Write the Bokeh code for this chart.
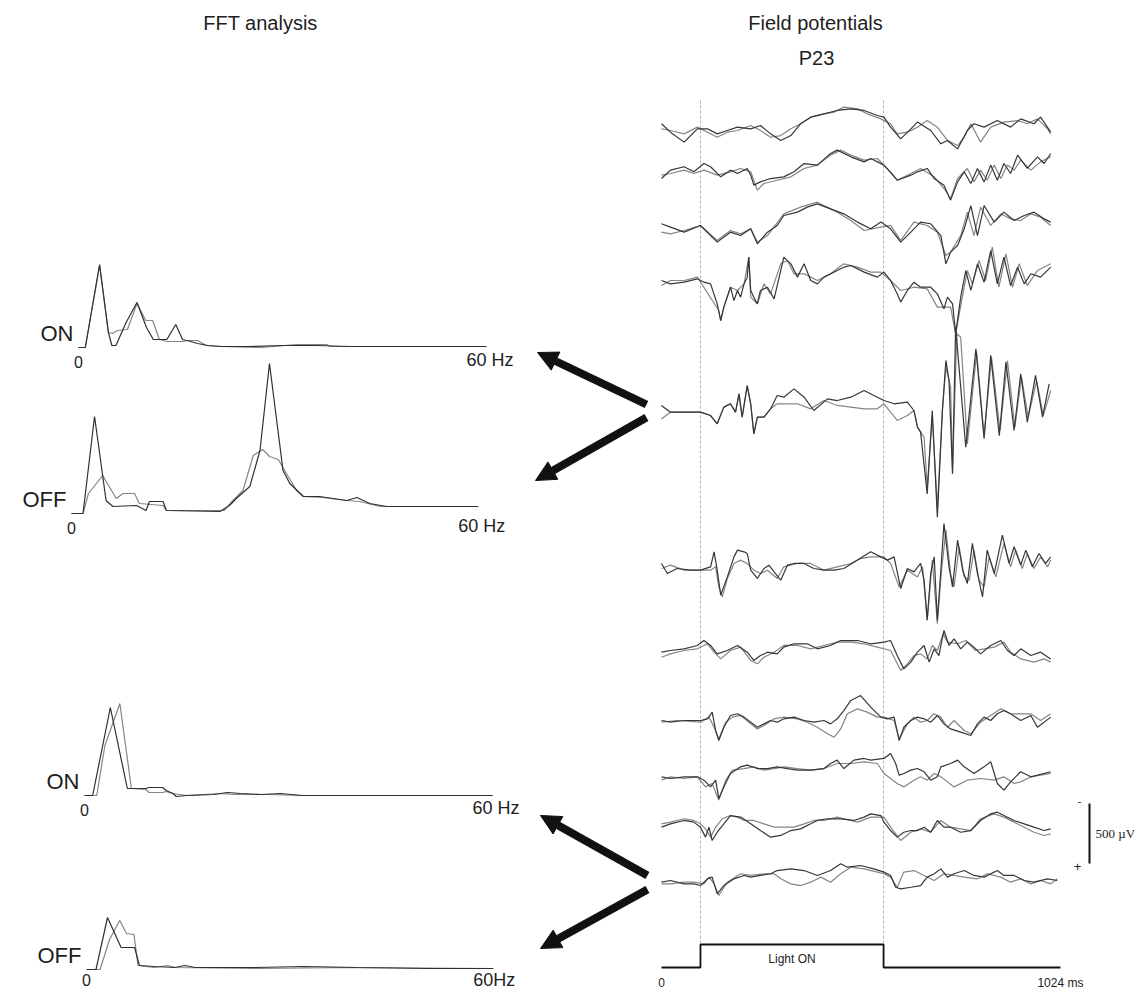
from bokeh.plotting import figure
from bokeh.models import Range1d, Label, Arrow, NormalHead
from bokeh.embed import file_html
from bokeh.resources import INLINE

# ---------------- data ----------------
# FFT spectra: (frequency Hz, amplitude a.u.)
on1_a = [(0,0),(1.0,0),(3.1,83),(4.4,15),(4.9,2),(5.5,2),(7.0,25),(8.6,45),(10.0,20),(11.0,8),(13.0,8),
         (14.3,23),(15.3,8),(16.5,6),(17.5,4),(19,2),(21,1),(25,1),(30,2),(35,2),(40,1),(50,1),(60,1)]
on1_b = [(0,0),(1.0,0),(3.1,82),(4.4,15),(5.0,14),(5.7,17),(7.2,18),(8.6,44),(9.9,27),(10.9,27),(11.9,8),
         (13,6),(15.3,6),(16,7),(17.5,7),(18.8,2),(21,1),(27,0),(32,3),(36.5,3),(37,1),(45,1),(60,1)]
off1_a = [(0,0),(1.7,0),(3.4,97),(5.1,13),(6.1,7),(9.6,8),(11.0,3),(11.5,12),(13.5,12),(14.0,3),(21.9,2),
          (23.3,8),(24.3,15),(26.3,27),(27.8,63),(29.2,150),(31.2,43),(32.2,30),(34.2,17),(36.6,17),
          (40.6,13),(42.1,16),(44.0,10),(46.5,7),(60,7)]
off1_b = [(0,0),(1.7,0),(2.5,20),(4.6,38),(6.6,15),(7.6,20),(9.3,20),(10.0,10),(13.5,8),(14.0,3),(22.5,3),
          (23.8,13),(25.3,23),(26.8,58),(28.2,64),(29.2,57),(30.5,54),(31.7,40),(33.2,23),(34.2,17),
          (37,16),(40.6,13),(42.5,12),(45.5,7),(60,7)]
on2_a = [(0,0),(1.2,0),(3.8,88),(6.3,7),(9.0,7),(9.5,8),(11.5,8),(12,5),(13,2),(13.5,-1),(15,0),(19,1),
         (21,3),(23,2),(26,1),(28.8,2),(32,0),(60,0)]
on2_b = [(0,0),(1.8,0),(3.0,50),(5.2,92),(6.9,7),(9.0,6),(9.5,3),(11.5,3),(12,4),(13,2),(15,0),(20,2),
         (22,1),(27,1),(32,0),(60,0)]
off2_a = [(0,0),(1.4,0),(3.1,52),(5.1,22),(7.1,22),(7.8,4),(10,3),(13,2),(14.5,4),(16,2),(25,2),(32,3),
          (40,2),(50,1),(60,1)]
off2_b = [(0,0),(2.0,0),(3.4,30),(4.9,49),(5.9,36),(7.0,35),(7.6,4),(10,2),(12,4),(13,2),(25,1),(40,2),(60,1)]

# Field potentials: (time ms, potential uV, negative up)
tr1_a = [(0,-56),(23,14),(58,97),(92,-14),(118,-14),(143,28),(169,0),(195,-28),(229,-14),(254,-42),(280,28),
         (306,83),(332,42),(357,-56),(383,-111),(417,-139),(451,-167),(486,-180),(520,-167),(554,-125),
         (571,-111),(588,-28),(614,70),(640,-14),(657,-70),(691,0),(717,111),(734,83),(760,153),(785,0),
         (802,-56),(828,-28),(862,-83),(896,-28),(922,-97),(956,-56),(973,-111),(999,14)]
tr1_b = [(0,-14),(23,0),(58,28),(92,-28),(118,14),(143,56),(169,14),(195,0),(229,-42),(254,0),(280,56),
         (306,42),(332,-14),(357,-56),(383,-111),(417,-139),(443,-153),(468,-195),(503,-180),(528,-139),
         (563,-97),(588,-56),(605,28),(631,14),(657,-28),(682,-83),(708,-28),(734,83),(760,125),(777,56),
         (794,-56),(819,97),(845,-28),(879,-70),(914,-83),(939,-56),(965,-97),(991,-14),(999,28)]
tr2_a = [(0,42),(23,-28),(58,-56),(83,-14),(109,-83),(126,-56),(152,28),(177,-28),(195,0),(220,-42),(229,14),
         (237,97),(254,70),(280,42),(314,28),(340,-14),(366,-83),(400,-70),(434,-167),(451,-195),(486,-139),
         (520,-97),(537,-125),(571,-70),(605,56),(640,14),(657,-14),(682,-42),(700,42),(725,97),(742,222),
         (760,70),(777,-14),(794,83),(811,-42),(828,70),(845,-70),(862,56),(879,-83),(896,0),(914,-153),
         (939,-42),(965,-139),(982,-83),(999,-167)]
tr2_b = [(0,14),(23,0),(58,-28),(83,0),(109,-28),(143,14),(177,-14),(203,-42),(229,-14),(246,139),(263,83),
         (297,56),(332,28),(366,-42),(400,-70),(434,-153),(460,-195),(486,-153),(520,-111),(554,-125),
         (588,-14),(605,56),(640,0),(665,-42),(700,28),(725,125),(742,208),(760,42),(785,-42),(802,70),
         (819,-28),(836,56),(854,-70),(871,42),(888,-70),(905,-28),(922,-111),(948,-28),(973,-97),(999,-139)]
tr3_a = [(0,-56),(23,-28),(58,14),(100,-42),(143,97),(177,14),(203,42),(229,-14),(246,111),(272,14),(297,-42),
         (314,-125),(349,-153),(374,-195),(400,-222),(434,-180),(468,-139),(503,-70),(537,-14),(563,-70),
         (588,-14),(614,97),(640,14),(665,-70),(691,-56),(717,42),(730,278),(742,180),(760,125),(777,-14),
         (794,-208),(811,42),(828,-208),(854,-70),(879,-153),(905,-83),(931,-125),(956,-153),(982,-97),(999,-70)]
tr3_b = [(0,14),(23,28),(58,0),(100,-42),(143,83),(177,0),(203,28),(229,-14),(246,97),(272,42),(314,-139),
         (357,-195),(400,-236),(451,-153),(486,-83),(520,0),(563,-28),(588,-42),(614,83),(648,-70),(682,-42),
         (708,14),(730,208),(742,180),(768,42),(785,-153),(802,42),(819,-195),(845,-42),(871,-139),(896,-97),
         (922,-83),(948,-139),(973,-111),(999,-42)]
tr4_a = [(0,0),(23,28),(58,14),(92,-14),(109,14),(126,28),(143,195),(152,334),(160,222),(177,56),(186,167),
         (195,83),(203,139),(212,28),(220,-28),(224,-195),(229,83),(237,139),(246,195),(254,83),(272,56),
         (289,153),(306,-83),(314,-195),(332,-139),(349,-28),(366,-139),(383,0),(400,28),(417,-28),(451,-83),
         (468,-111),(486,-125),(520,-70),(554,-28),(571,-70),(588,0),(605,111),(614,180),(631,83),(648,14),
         (665,56),(691,56),(708,111),(725,236),(734,139),(747,195),(755,445),(768,139),(781,-83),(794,83),
         (811,-139),(828,14),(845,-250),(862,28),(879,-195),(896,42),(914,-111),(931,28),(948,-56),(973,-28),
         (999,-111)]
tr4_b = [(0,42),(23,0),(58,0),(92,-28),(147,250),(152,334),(160,222),(177,56),(195,83),(212,28),(224,-195),
         (229,139),(246,195),(263,28),(280,111),(306,-139),(323,-167),(340,-56),(366,-56),(383,-28),(400,0),
         (434,-56),(468,-139),(503,-111),(537,-70),(563,-70),(588,0),(614,83),(648,56),(682,70),(708,222),
         (742,222),(755,445),(772,139),(785,-83),(798,28),(815,-167),(832,0),(849,-278),(866,56),(884,-222),
         (901,56),(918,-139),(939,42),(965,-83),(999,-139)]
tr5_a = [(0,-42),(23,14),(58,14),(100,14),(126,42),(143,111),(160,-28),(177,-56),(190,14),(199,-139),(207,56),
         (220,-208),(229,-56),(237,195),(246,56),(263,56),(280,-14),(297,-125),(314,-111),(340,-180),
         (366,-111),(391,0),(426,-97),(451,-83),(486,-111),(520,-167),(554,-111),(571,-83),(597,-56),
         (631,-70),(648,0),(657,139),(665,180),(682,695),(695,0),(708,890),(721,0),(730,-417),(738,-250),
         (747,528),(755,-695),(781,306),(807,-514),(828,236),(845,-459),(867,209),(884,-403),(905,167),
         (922,-306),(939,97),(960,-292),(978,56),(995,-222)]
tr5_b = [(0,70),(23,14),(58,14),(100,14),(126,42),(143,111),(160,-28),(177,-56),(190,14),(199,-139),(207,56),
         (220,-208),(229,-56),(237,195),(246,56),(263,56),(280,-14),(297,-56),(314,-56),(349,-56),(383,-14),
         (417,-83),(451,-42),(486,-28),(520,-14),(554,-14),(571,-56),(605,83),(631,42),(648,0),(657,139),
         (674,222),(682,640),(695,56),(708,806),(721,0),(730,-361),(742,-195),(747,500),(758,-640),(768,-611),
         (785,278),(809,-486),(828,209),(847,-445),(869,167),(888,-417),(907,139),(924,-278),(941,56),
         (963,-250),(980,42),(999,-167)]
tr6_a = [(0,-42),(15,42),(40,0),(75,14),(100,14),(126,-14),(135,-139),(143,14),(152,222),(169,70),(186,-97),
         (195,-153),(212,-139),(220,-125),(229,14),(246,83),(263,0),(276,-28),(289,28),(306,97),(323,-28),
         (340,-42),(366,-42),(391,0),(417,14),(443,14),(468,0),(503,-70),(537,-139),(563,-97),(580,-70),
         (597,-97),(614,167),(631,0),(648,28),(665,-42),(674,97),(682,431),(691,42),(700,-97),(708,431),
         (717,14),(725,-375),(738,-14),(747,153),(760,-236),(773,14),(785,125),(798,-209),(811,42),(824,236),
         (836,-153),(854,42),(875,-278),(892,-42),(905,-181),(922,-28),(935,-153),(952,-14),(969,-125),
         (986,-42),(999,-97)]
tr6_b = [(0,0),(23,-28),(58,14),(100,14),(126,14),(139,-14),(147,153),(156,236),(169,83),(186,-42),(203,-70),
         (220,-42),(237,14),(254,42),(272,14),(297,83),(314,-14),(349,-42),(383,-42),(417,14),(451,-14),
         (486,-42),(511,-83),(537,-97),(571,-97),(588,-42),(610,153),(631,14),(657,70),(670,-14),(682,431),
         (695,-70),(708,459),(718,42),(730,-320),(742,42),(751,153),(764,-181),(777,70),(790,97),(802,-153),
         (815,97),(828,153),(841,-97),(858,70),(879,-209),(896,-14),(909,-153),(926,0),(939,-125),(956,0),
         (973,-97),(991,-14),(999,-70)]
tr7_a = [(0,14),(23,0),(58,-14),(92,-42),(109,-83),(126,-42),(143,28),(169,0),(195,-42),(220,14),(237,83),
         (254,42),(272,14),(297,28),(314,-28),(340,-56),(374,-56),(400,-14),(434,-42),(460,-83),(503,-83),
         (537,-56),(571,-70),(588,-83),(605,42),(622,153),(640,97),(657,14),(674,-42),(687,97),(700,-14),
         (712,42),(725,-167),(738,-42),(751,-97),(768,-14),(785,-70),(802,-28),(819,28),(845,-42),(871,-83),
         (888,0),(905,42),(922,-14),(948,42),(973,14),(999,70)]
tr7_b = [(0,56),(23,28),(58,0),(92,-14),(118,-56),(135,14),(152,70),(177,0),(203,-28),(229,83),(246,111),
         (263,56),(289,14),(314,-42),(349,-42),(383,-14),(417,-42),(451,-70),(486,-70),(520,-56),(554,-28),
         (588,0),(614,167),(631,111),(648,42),(665,28),(682,70),(695,-42),(708,0),(723,-139),(734,-70),
         (760,-56),(781,-83),(806,0),(828,-14),(854,-28),(879,-70),(896,14),(922,70),(956,97),(982,70),(999,97)]
tr8_a = [(0,0),(23,14),(58,0),(100,0),(118,-14),(130,-70),(139,83),(147,167),(160,56),(177,-42),(195,-56),
         (212,-28),(229,14),(246,56),(263,28),(280,0),(297,14),(314,-14),(340,-28),(366,0),(391,14),(417,0),
         (434,28),(451,-14),(468,-83),(486,-167),(511,-208),(537,-111),(563,-28),(580,-14),(597,-28),
         (610,167),(622,56),(640,0),(657,-28),(674,-14),(691,14),(708,-42),(725,28),(742,70),(768,97),
         (794,125),(811,28),(828,-28),(845,0),(862,-56),(879,-83),(896,-56),(922,0),(948,-42),(965,56),(999,-28)]
tr8_b = [(0,14),(40,0),(100,14),(122,-28),(135,56),(147,153),(165,14),(182,-28),(203,-42),(229,28),(246,70),
         (263,42),(289,-14),(314,-28),(349,-14),(374,14),(400,56),(426,111),(443,139),(460,70),(477,-56),
         (503,-97),(528,-70),(554,-28),(571,-28),(597,0),(610,153),(631,28),(648,-28),(665,14),(682,0),
         (699,-56),(717,-28),(734,56),(751,0),(777,83),(794,111),(819,14),(845,-42),(871,-97),(896,-56),
         (922,-56),(948,-56),(973,0),(999,-56)]
tr9_a = [(0,-14),(23,0),(58,-14),(92,-14),(109,14),(126,70),(139,14),(147,167),(160,70),(177,-42),(203,-97),
         (220,-111),(246,-83),(272,-83),(297,-97),(323,-83),(349,-70),(383,-70),(417,-83),(434,-125),
         (451,-153),(468,-83),(494,-153),(520,-167),(537,-153),(571,-167),(588,-209),(601,-125),(610,-28),
         (622,-42),(640,-70),(657,-83),(674,-56),(691,14),(708,-14),(717,-97),(742,-125),(760,-153),(777,-97),
         (802,-42),(828,-97),(845,-139),(862,42),(879,97),(896,28),(922,-56),(948,-14),(999,-56)]
tr9_b = [(0,14),(23,-14),(58,0),(92,-14),(113,70),(130,42),(147,180),(165,14),(182,-70),(212,-83),(237,-97),
         (263,-70),(289,-83),(314,-97),(349,-83),(383,-70),(417,-83),(451,-125),(486,-125),(520,-139),
         (554,-125),(571,-42),(605,42),(622,70),(648,14),(665,-14),(682,14),(700,-42),(717,-14),(734,28),
         (751,70),(785,14),(819,0),(854,14),(879,-14),(905,42),(922,28),(948,-14),(973,-28),(999,-42)]
tr10_a = [(0,14),(23,-14),(58,-42),(83,-28),(100,14),(113,97),(122,14),(130,125),(143,56),(160,-14),(177,-83),
          (203,-70),(229,-14),(254,42),(280,97),(306,83),(332,42),(357,28),(383,-14),(400,-42),(426,-56),
          (460,-56),(494,-42),(520,-70),(537,-97),(563,-83),(571,-28),(588,42),(605,97),(622,56),(640,42),
          (657,42),(674,14),(691,56),(708,-42),(725,14),(742,14),(768,56),(794,42),(819,-42),(845,-97),
          (862,-111),(879,-83),(905,-42),(931,-14),(956,14),(982,42),(999,28)]
tr10_b = [(0,-14),(23,-28),(58,-56),(83,-42),(100,-14),(113,28),(126,97),(139,14),(156,-56),(177,-83),
          (195,-70),(212,-42),(237,-42),(263,-14),(289,14),(314,14),(340,14),(366,-14),(391,-42),(417,-42),
          (451,-70),(486,-42),(503,-28),(537,-70),(571,-70),(588,14),(614,125),(640,56),(665,28),(691,56),
          (717,-42),(742,14),(768,28),(794,42),(819,-56),(854,-97),(879,-70),(905,-28),(931,14),(956,56),
          (982,83),(999,70)]
tr11_a = [(0,14),(23,0),(58,28),(83,28),(100,42),(118,-14),(130,-28),(143,111),(160,42),(186,-14),(212,-42),
          (229,-28),(254,-42),(280,-56),(297,-83),(332,-97),(366,-83),(400,-42),(434,-83),(460,-139),
          (477,-111),(511,-125),(545,-97),(571,-70),(588,-42),(601,56),(614,70),(640,56),(665,42),(682,-28),
          (700,-56),(717,-97),(734,-28),(751,-56),(777,-83),(802,-42),(828,-28),(862,-83),(879,-42),(905,-42),
          (931,0),(956,14),(991,-14),(1016,0)]
tr11_b = [(0,28),(23,28),(58,14),(83,14),(109,28),(122,-28),(135,28),(147,125),(169,14),(203,-56),(229,-42),
          (263,-56),(289,-56),(306,-14),(332,28),(357,42),(383,14),(409,-28),(434,14),(460,-56),(486,-111),
          (520,-97),(554,-70),(571,-56),(588,-28),(605,56),(622,-70),(648,-83),(674,-42),(700,0),(725,-56),
          (751,-42),(777,-28),(811,-14),(836,-56),(871,-28),(896,14),(922,-14),(948,28),(973,0),(999,28),
          (1016,-14)]

# light stimulus (ms, on/off)
stim_t = [0, 100, 100, 570, 570, 1024]
stim_v = [0, 0, 1, 1, 0, 0]
light_on_ms, light_off_ms = 100, 570
scale_uv = 500

# ---------------- layout ----------------
W, H = 1148, 990
UV_PX = 0.12      # px per microvolt
MS_PX = 0.3896    # px per ms
T0_X = 661        # x of 0 ms

p = figure(width=W, height=H, x_range=Range1d(0, W), y_range=Range1d(H, 0),
           x_axis_type=None, y_axis_type=None, output_backend="svg",
           toolbar_location=None, min_border=0)
p.grid.visible = False
p.outline_line_color = None
p.background_fill_color = "white"
p.border_fill_color = "white"


def xr(px0, v0, k):
    return Range1d(start=v0 - px0 * k, end=v0 + (W - px0) * k)


def yr(py0, v0, k):
    return Range1d(start=v0 + (H - py0) * k, end=v0 - py0 * k)


p.extra_x_ranges = {"ms": xr(T0_X, 0, 1 / MS_PX)}
p.extra_y_ranges = {}

# FFT panels: name, data a, data b, x of 0 Hz, px per Hz, baseline y, label, end label
fft_panels = [
    ("on1", on1_a, on1_b, 78, 6.8, 347, "ON", "60 Hz"),
    ("off1", off1_a, off1_b, 71, 6.78, 513, "OFF", "60 Hz"),
    ("on2", on2_a, on2_b, 84, 6.8, 795, "ON", "60 Hz"),
    ("off2", off2_a, off2_b, 86, 6.78, 969, "OFF", "60Hz"),
]
SANS = "Liberation Sans"
TXT = "#1e1e1e"
for name, da, db, x0, kx, yb, lab, endlab in fft_panels:
    p.extra_x_ranges[name] = xr(x0, 0, 1 / kx)
    p.extra_y_ranges[name] = yr(yb, 0, -1.0)
    for d, col in ((db, "#858585"), (da, "#303030")):
        p.line([q[0] for q in d], [q[1] for q in d], x_range_name=name, y_range_name=name,
               line_color=col, line_width=1.2)
    p.add_layout(Label(x=x0 - 5, y=yb - 14, text=lab, text_align="right", text_baseline="middle",
                       text_font=SANS, text_font_size="22px", text_color=TXT))
    p.add_layout(Label(x=0, y=min(yb + 14, 979), x_range_name=name, text="0", text_align="center",
                       text_baseline="middle", text_font=SANS, text_font_size="16px", text_color=TXT))
    p.add_layout(Label(x=60, y=min(yb + 12, 979), x_range_name=name, x_offset=-20, text=endlab,
                       text_align="left", text_baseline="middle", text_font=SANS, text_font_size="18px",
                       text_color=TXT))

# field potential traces
traces = [(tr1_a, tr1_b, 130), (tr2_a, tr2_b, 173), (tr3_a, tr3_b, 230), (tr4_a, tr4_b, 280),
          (tr5_a, tr5_b, 410), (tr6_a, tr6_b, 568), (tr7_a, tr7_b, 650), (tr8_a, tr8_b, 720),
          (tr9_a, tr9_b, 778), (tr10_a, tr10_b, 825), (tr11_a, tr11_b, 880)]

# dashed markers of light on/off
p.segment(x0=[light_on_ms, light_off_ms], x1=[light_on_ms, light_off_ms], y0=[100, 100], y1=[965, 965],
          x_range_name="ms", line_color="#b4b4b4", line_width=1, line_dash="3 2")

for i, (da, db, yb) in enumerate(traces):
    nm = f"tr{i + 1}"
    p.extra_y_ranges[nm] = yr(yb, 0, 1 / UV_PX)
    p.line([q[0] for q in db], [q[1] for q in db], x_range_name="ms", y_range_name=nm,
           line_color="#858585", line_width=1.2)
    p.line([q[0] for q in da], [q[1] for q in da], x_range_name="ms", y_range_name=nm,
           line_color="#363636", line_width=1.2)

# stimulus step
p.extra_y_ranges["stim"] = yr(967, 0, -1 / 23)
p.line(stim_t, stim_v, x_range_name="ms", y_range_name="stim", line_color="#111111", line_width=1.8)
p.add_layout(Label(x=335, y=958, x_range_name="ms", text="Light ON", text_align="center",
                   text_baseline="middle", text_font=SANS, text_font_size="12px", text_color="#222222"))
p.add_layout(Label(x=0, y=982, x_range_name="ms", text="0", text_align="center", text_baseline="middle",
                   text_font=SANS, text_font_size="12px", text_color="#222222"))
p.add_layout(Label(x=1024, y=982, x_range_name="ms", text="1024 ms", text_align="center",
                   text_baseline="middle", text_font=SANS, text_font_size="12px", text_color="#222222"))

# scale bar
p.extra_y_ranges["bar"] = yr(863, 0, 1 / UV_PX)
p.segment(x0=[1089], x1=[1089], y0=[0], y1=[-scale_uv], y_range_name="bar", line_color="#111111", line_width=2)
p.add_layout(Label(x=1095, y=833, text="500 \u00b5V", text_align="left", text_baseline="middle",
                   text_font="Liberation Serif", text_font_size="13px", text_color="#222222"))
p.add_layout(Label(x=1079, y=800, text="-", text_align="center", text_baseline="middle",
                   text_font=SANS, text_font_size="11px", text_color="#222222"))
p.add_layout(Label(x=1077, y=866, text="+", text_align="center", text_baseline="middle",
                   text_font=SANS, text_font_size="13px", text_color="#222222"))

# titles
for txt, x, y in (("FFT analysis", 260, 22), ("Field potentials", 815, 22), ("P23", 816, 57)):
    p.add_layout(Label(x=x, y=y, text=txt, text_align="center", text_baseline="middle",
                       text_font=SANS, text_font_size="20px", text_color=TXT))

# arrows linking spectra to traces
for xs, ys, xe, ye in ((646, 404, 537, 352), (646, 417, 535, 480), (647, 875, 540, 815), (647, 889, 540, 948)):
    p.add_layout(Arrow(x_start=xs, y_start=ys, x_end=xe, y_end=ye, line_width=8, line_color="#111111",
                       end=NormalHead(size=20, fill_color="#111111", line_color="#111111", line_width=1)))

open("out.html", "w").write(file_html(p, INLINE))
